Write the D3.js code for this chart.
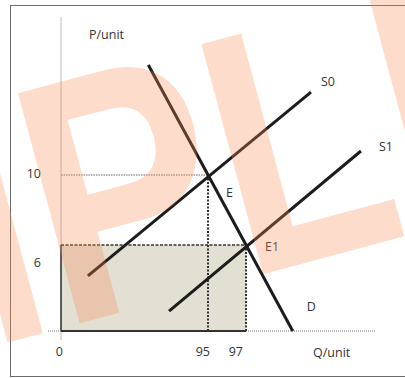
<!DOCTYPE html>
<html>
<head>
<meta charset="utf-8">
<script src="https://cdn.jsdelivr.net/npm/d3@7"></script>
<style>
  html, body { margin: 0; padding: 0; background: #ffffff; }
  svg { display: block; }
  text { font-family: "Open Sans", "Liberation Sans", sans-serif; fill: #333333; }
</style>
</head>
<body>
<svg id="chart" width="405" height="378"></svg>
<script>
// ---------- data ----------
const qTickValues = [0, 95, 97];
const qTickLabels = ["0", "95", "97"];
const pTickValues = [10, 6];
const pTickLabels = ["10", "6"];

const curveNames = ["D", "S0", "S1"];
const curveQ = [[91.86, 99.46], [88.68, 100.42], [92.95, 103.05]];
const curveP = [[16.29, 0], [3.84, 14.74], [1.39, 11.37]];

const eqNames = ["E", "E1"];
const eqQ = [95, 97];
const eqP = [10, 6];

const axisQMax = 103.8;   // end of quantity axis
const axisPMax = 19.0;    // top of price axis
const axisTitleX = "Q/unit";
const axisTitleY = "P/unit";
const watermark = "SAMPLE";

// ---------- scales (schematic axes with a break) ----------
const x = d3.scaleLinear().domain([0, 88, 95, 97]).range([61, 75, 208, 246]);
const y = d3.scaleLinear().domain([0, 6, 10]).range([331, 245, 175]);

const svg = d3.select("#chart");

// frame
svg.append("rect").attr("x", 10.5).attr("y", 5.5).attr("width", 420).attr("height", 371)
  .attr("fill", "none").attr("stroke", "#6b6b6b").attr("stroke-width", 1);

// revenue rectangle (Q 0..97, P 0..6)
const rq = eqQ[1], rp = eqP[1];
svg.append("rect")
  .attr("x", x(0)).attr("y", y(rp))
  .attr("width", x(rq) - x(0)).attr("height", y(0) - y(rp))
  .attr("fill", "#e3dfd3");

// axes (dotted)
svg.append("line").attr("x1", x(0)).attr("x2", x(0)).attr("y1", y(axisPMax)).attr("y2", y(0) + 9)
  .attr("stroke", "#777").attr("stroke-width", 1).attr("stroke-dasharray", "1,1");
svg.append("line").attr("x1", x(0) - 13).attr("x2", x(axisQMax)).attr("y1", y(0)).attr("y2", y(0))
  .attr("stroke", "#777").attr("stroke-width", 1).attr("stroke-dasharray", "1,1");

// rectangle edges
svg.append("line").attr("x1", x(0)).attr("x2", x(0)).attr("y1", y(rp)).attr("y2", y(0))
  .attr("stroke", "#333").attr("stroke-width", 1.5);
svg.append("line").attr("x1", x(0)).attr("x2", x(rq)).attr("y1", y(0)).attr("y2", y(0))
  .attr("stroke", "#333").attr("stroke-width", 2);
svg.append("line").attr("x1", x(0)).attr("x2", x(rq)).attr("y1", y(rp)).attr("y2", y(rp))
  .attr("stroke", "#333").attr("stroke-width", 1.5).attr("stroke-dasharray", "3,1.5");
svg.append("line").attr("x1", x(rq)).attr("x2", x(rq)).attr("y1", y(rp)).attr("y2", y(0))
  .attr("stroke", "#333").attr("stroke-width", 2).attr("stroke-dasharray", "2,1.5");

// guides to E
svg.append("line").attr("x1", x(0)).attr("x2", x(eqQ[0])).attr("y1", y(eqP[0])).attr("y2", y(eqP[0]))
  .attr("stroke", "#666").attr("stroke-width", 1).attr("stroke-dasharray", "1.5,1");
svg.append("line").attr("x1", x(eqQ[0])).attr("x2", x(eqQ[0])).attr("y1", y(eqP[0])).attr("y2", y(0))
  .attr("stroke", "#333").attr("stroke-width", 2).attr("stroke-dasharray", "2,1.5");

// curves
const line = d3.line().x(d => x(d[0])).y(d => y(d[1]));
curveNames.forEach((name, i) => {
  const pts = curveQ[i].map((q, j) => [q, curveP[i][j]]);
  svg.append("path").attr("d", line(pts))
    .attr("fill", "none").attr("stroke", "#1c1c1c").attr("stroke-width", 3);
});

// curve labels
const curveLabelOffset = { "D": [14, -20, 1], "S0": [10, -6, 1], "S1": [18, 0, 1] };
curveNames.forEach((name, i) => {
  const o = curveLabelOffset[name];
  const q = curveQ[i][o[2]], p = curveP[i][o[2]];
  svg.append("text").attr("x", x(q) + o[0]).attr("y", y(p) + o[1])
    .attr("font-size", 12.5).text(name);
});

// equilibrium labels
const eqLabelOffset = [[18, 22], [19, 6]];
eqNames.forEach((name, i) => {
  svg.append("text").attr("x", x(eqQ[i]) + eqLabelOffset[i][0]).attr("y", y(eqP[i]) + eqLabelOffset[i][1])
    .attr("font-size", 12.5).text(name);
});

// tick labels
const qLabelDx = [2, 2, -3];
qTickValues.forEach((v, i) => {
  svg.append("text").attr("x", x(v) + qLabelDx[i]).attr("y", 356)
    .attr("text-anchor", "end").attr("font-size", 12.5).text(qTickLabels[i]);
});
const pLabelDy = [3, 22];
pTickValues.forEach((v, i) => {
  svg.append("text").attr("x", x(0) - 20).attr("y", y(v) + pLabelDy[i])
    .attr("text-anchor", "end").attr("font-size", 12.5).text(pTickLabels[i]);
});

// axis titles
svg.append("text").attr("x", x(0) + 28).attr("y", 39).attr("font-size", 12.5).text(axisTitleY);
svg.append("text").attr("x", 313).attr("y", 357).attr("font-size", 12.5).text(axisTitleX);

// watermark on top
svg.append("g")
  .attr("transform", "translate(-550,492) rotate(-15) scale(0.823,1)")
  .append("text")
  .attr("x", 0).attr("y", 0)
  .style("font-family", "'Liberation Sans', Arial, sans-serif")
  .style("font-weight", "bold")
  .style("font-size", "346px")
  .style("fill", "#f78c57")
  .style("fill-opacity", 0.3)
  .text(watermark);
</script>
</body>
</html>
